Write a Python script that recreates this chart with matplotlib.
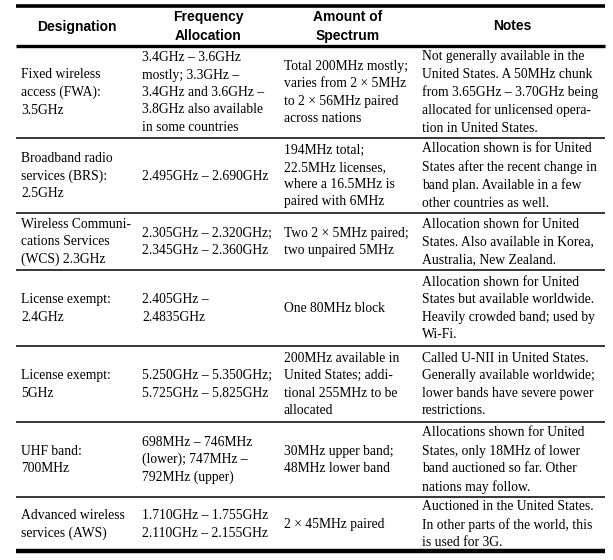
import matplotlib
matplotlib.use("Agg")
import matplotlib.pyplot as plt

# table content
headers = ["Designation", "Frequency\nAllocation", "Amount of\nSpectrum", "Notes"]

designations = [
    "Fixed wireless\naccess (FWA):\n3.5GHz",
    "Broadband radio\nservices (BRS):\n2.5GHz",
    "Wireless Communi-\ncations Services\n(WCS) 2.3GHz",
    "License exempt:\n2.4GHz",
    "License exempt:\n5GHz",
    "UHF band:\n700MHz",
    "Advanced wireless\nservices (AWS)",
]

allocations = [
    "3.4GHz – 3.6GHz\nmostly; 3.3GHz –\n3.4GHz and 3.6GHz –\n3.8GHz also available\nin some countries",
    "2.495GHz – 2.690GHz",
    "2.305GHz – 2.320GHz;\n2.345GHz – 2.360GHz",
    "2.405GHz –\n2.4835GHz",
    "5.250GHz – 5.350GHz;\n5.725GHz – 5.825GHz",
    "698MHz – 746MHz\n(lower); 747MHz –\n792MHz (upper)",
    "1.710GHz – 1.755GHz\n2.110GHz – 2.155GHz",
]

spectrum = [
    "Total 200MHz mostly;\nvaries from 2 × 5MHz\nto 2 × 56MHz paired\nacross nations",
    "194MHz total;\n22.5MHz licenses,\nwhere a 16.5MHz is\npaired with 6MHz",
    "Two 2 × 5MHz paired;\ntwo unpaired 5MHz",
    "One 80MHz block",
    "200MHz available in\nUnited States; addi-\ntional 255MHz to be\nallocated",
    "30MHz upper band;\n48MHz lower band",
    "2 × 45MHz paired",
]

notes = [
    "Not generally available in the\nUnited States. A 50MHz chunk\nfrom 3.65GHz – 3.70GHz being\nallocated for unlicensed opera-\ntion in United States.",
    "Allocation shown is for United\nStates after the recent change in\nband plan. Available in a few\nother countries as well.",
    "Allocation shown for United\nStates. Also available in Korea,\nAustralia, New Zealand.",
    "Allocation shown for United\nStates but available worldwide.\nHeavily crowded band; used by\nWi-Fi.",
    "Called U-NII in United States.\nGenerally available worldwide;\nlower bands have severe power\nrestrictions.",
    "Allocations shown for United\nStates, only 18MHz of lower\nband auctioned so far. Other\nnations may follow.",
    "Auctioned in the United States.\nIn other parts of the world, this\nis used for 3G.",
]

# layout (pixels)
W, H = 613, 560
x_left, x_right = 16, 605
col_x = [21, 142, 284, 422]
head_cx = [77, 208, 348, 512]
rule_y = [46, 138, 213, 270, 346, 422, 497, 551]

fig = plt.figure(figsize=(W / 100, H / 100), dpi=100)
ax = fig.add_axes([0, 0, 1, 1])
ax.set_xlim(0, W)
ax.set_ylim(H, 0)
ax.axis("off")

# rules
ax.hlines(5.5, x_left, x_right, color="black", lw=2.6)
ax.hlines(rule_y[0], x_left, x_right, color="black", lw=2.4)
ax.hlines(rule_y[1:-1], x_left, x_right, color="black", lw=1.1)
ax.hlines(rule_y[-1], x_left, x_right, color="black", lw=3.2)

# header
for cx, h in zip(head_cx, headers):
    ax.text(cx, 26.5, h, ha="center", va="center", fontsize=10,
            fontweight="bold", family="Liberation Sans", linespacing=1.38)

# body
columns = [designations, allocations, spectrum, notes]
for i in range(len(designations)):
    yc = (rule_y[i] + rule_y[i + 1]) / 2
    for x, col in zip(col_x, columns):
        ax.text(x, yc + 0.5, col[i], ha="left", va="center", fontsize=9.8,
                family="Liberation Serif", linespacing=1.43)

fig.savefig("out.png", dpi=100)
